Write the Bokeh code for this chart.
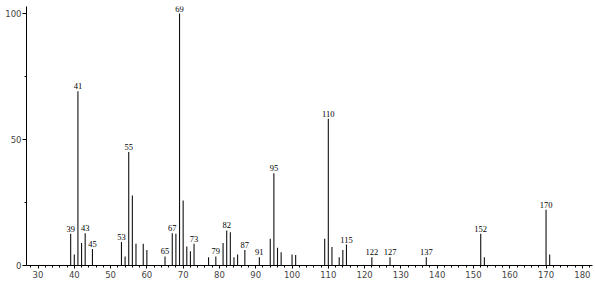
from bokeh.plotting import figure
from bokeh.models import ColumnDataSource, Range1d, FixedTicker, LabelSet
from bokeh.embed import file_html
from bokeh.resources import INLINE

# m/z values and relative intensities
mz = [39, 40, 41, 42, 43, 45, 53, 54, 55, 56, 57, 59, 60, 65, 67, 68, 69, 70, 71, 72, 73,
      77, 79, 81, 82, 83, 84, 85, 87, 91, 94, 95, 96, 97, 100, 101,
      109, 110, 111, 113, 114, 115, 122, 127, 137, 152, 153, 170, 171]
intensity = [12.6, 4.4, 69.2, 8.9, 12.8, 6.5, 9.3, 3.6, 45.0, 27.8, 8.6, 8.6, 6.2, 3.6, 12.8, 12.6, 100.0, 25.8, 7.5, 5.7, 8.6,
             3.3, 3.6, 8.9, 13.9, 13.2, 3.3, 4.4, 6.2, 3.3, 10.6, 36.6, 7.0, 5.3, 4.4, 4.2,
             10.6, 58.2, 7.3, 3.3, 6.2, 8.3, 3.3, 3.3, 3.3, 12.6, 3.3, 22.1, 4.4]
labeled = [39, 41, 43, 45, 53, 55, 65, 67, 69, 73, 79, 82, 87, 91, 95, 110, 115, 122, 127, 137, 152, 170]
label_text = [str(m) for m in labeled]

x_ticks = list(range(30, 181, 10))
x_minor = list(range(28, 183, 2))
y_ticks = [0, 50, 100]
y_minor = [25, 75]

inten_map = dict(zip(mz, intensity))
lab_y = [inten_map[m] for m in labeled]

src = ColumnDataSource(dict(x=mz, y0=[0] * len(mz), y1=intensity))
lsrc = ColumnDataSource(dict(x=labeled, y=lab_y, t=label_text))

p = figure(width=595, height=282, output_backend="svg", toolbar_location=None,
           x_range=Range1d(26.83, 182.8), y_range=Range1d(0, 102.8),
           min_border_left=26, min_border_right=3, min_border_top=6, min_border_bottom=17)
p.outline_line_color = None
p.grid.visible = False
p.background_fill_color = "white"
p.border_fill_color = "white"

p.segment(x0="x", y0="y0", x1="x", y1="y1", source=src, line_color="#111111", line_width=1.1)
labels = LabelSet(x="x", y="y", text="t", source=lsrc, text_align="center", text_baseline="bottom",
                  y_offset=2, text_font="DejaVu Sans", text_font_size="8.5px", text_color="black")
p.add_layout(labels)

xa = p.xaxis[0]
xa.ticker = FixedTicker(ticks=x_ticks, minor_ticks=x_minor)
xa.major_tick_out = 3
xa.major_tick_in = 0
xa.minor_tick_out = 2
xa.minor_tick_in = 0
xa.major_label_standoff = 2
xa.major_label_text_font = "DejaVu Sans"
xa.major_label_text_font_size = "8.5px"
xa.axis_line_color = "black"

ya = p.yaxis[0]
ya.ticker = FixedTicker(ticks=y_ticks, minor_ticks=y_minor)
ya.major_tick_out = 4
ya.major_tick_in = 0
ya.minor_tick_out = 2
ya.minor_tick_in = 0
ya.major_label_standoff = 1
ya.major_label_text_font = "DejaVu Sans"
ya.major_label_text_font_size = "8.5px"
ya.axis_line_color = "black"

open("out.html", "w").write(file_html(p, INLINE))
